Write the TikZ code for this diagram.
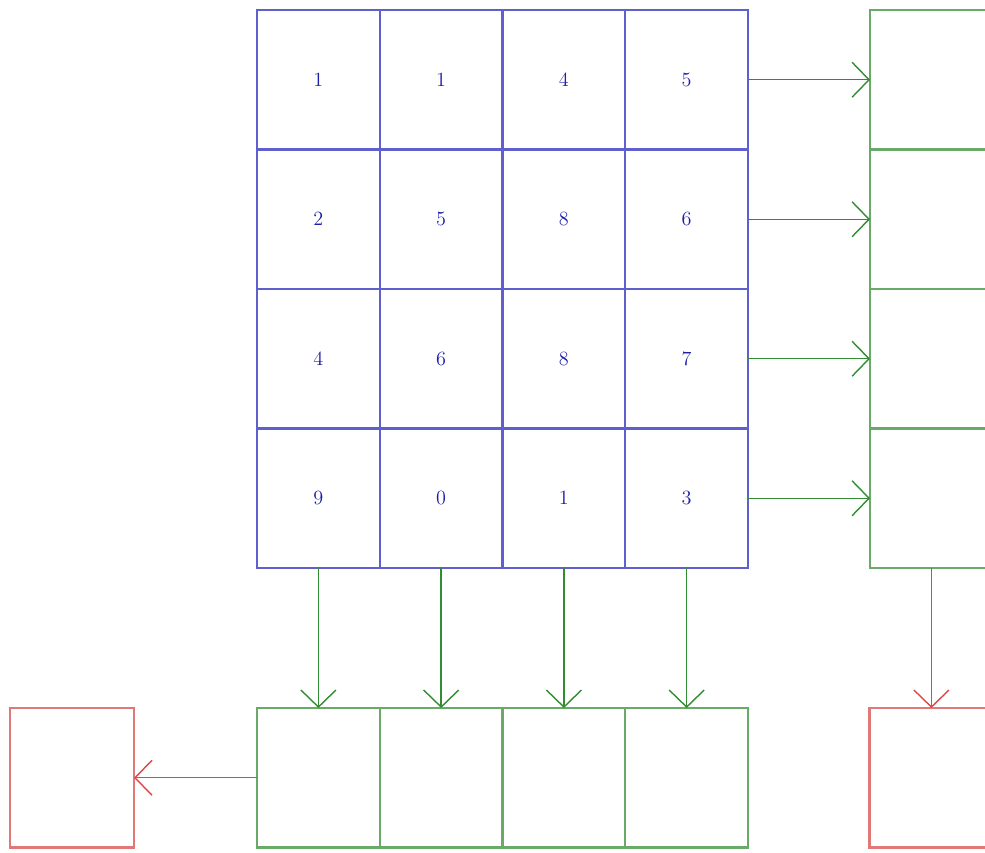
\documentclass[tikz,border=0pt]{standalone}
\usepackage{tikz}
\usetikzlibrary{positioning,arrows.meta}
\definecolor{gridblue}{RGB}{95,95,205}
\definecolor{numblue}{RGB}{30,30,170}
\definecolor{boxgreen}{RGB}{105,170,105}
\definecolor{arrgreen}{RGB}{50,140,50}
\definecolor{boxred}{RGB}{225,120,120}
\definecolor{arrred}{RGB}{225,70,70}
\begin{document}
\begin{tikzpicture}[font=\fontsize{11.5}{14}\selectfont,
  cell/.style={draw=gridblue, line width=1.3pt, text=numblue,
               minimum width=2.455cm, minimum height=2.79cm, outer sep=0pt, inner sep=0pt},
  gbox/.style={cell, draw=boxgreen},
  rbox/.style={cell, draw=boxred, minimum width=2.48cm},
  garr/.style={-{Straight Barb[length=3.4mm, width=7mm]}, draw=arrgreen, line width=0.8pt},
  rarr/.style={garr, draw=arrred}]
\clip (0,0) rectangle (19.7,-17.04);
% input grid
\node[cell] (c11) at (6.368,-1.595) {1};
\node[cell, right=0pt of c11] (c12) {1};
\node[cell, right=0pt of c12] (c13) {4};
\node[cell, right=0pt of c13] (c14) {5};
\node[cell, below=0pt of c11] (c21) {2};
\node[cell, right=0pt of c21] (c22) {5};
\node[cell, right=0pt of c22] (c23) {8};
\node[cell, right=0pt of c23] (c24) {6};
\node[cell, below=0pt of c21] (c31) {4};
\node[cell, right=0pt of c31] (c32) {6};
\node[cell, right=0pt of c32] (c33) {8};
\node[cell, right=0pt of c33] (c34) {7};
\node[cell, below=0pt of c31] (c41) {9};
\node[cell, right=0pt of c41] (c42) {0};
\node[cell, right=0pt of c42] (c43) {1};
\node[cell, right=0pt of c43] (c44) {3};
% row results
\node[gbox, right=2.44cm of c14] (r1) {};
\node[gbox, below=0pt of r1] (r2) {};
\node[gbox, below=0pt of r2] (r3) {};
\node[gbox, below=0pt of r3] (r4) {};
% column results
\node[gbox, below=2.8cm of c41] (b1) {};
\node[gbox, right=0pt of b1] (b2) {};
\node[gbox, right=0pt of b2] (b3) {};
\node[gbox, right=0pt of b3] (b4) {};
% totals
\node[rbox, left=2.46cm of b1] (outl) {};
\node[rbox, below=2.8cm of r4] (outr) {};
\draw[garr] (c14) -- (r1);
\draw[garr] (c24) -- (r2);
\draw[garr] (c34) -- (r3);
\draw[garr] (c44) -- (r4);
\draw[garr] (c41) -- (b1);
\draw[garr] (c42) -- (b2);
\draw[garr] (c43) -- (b3);
\draw[garr] (c44) -- (b4);
\draw[rarr] (b1) -- (outl);
\draw[rarr] (r4) -- (outr);
\end{tikzpicture}
\end{document}
